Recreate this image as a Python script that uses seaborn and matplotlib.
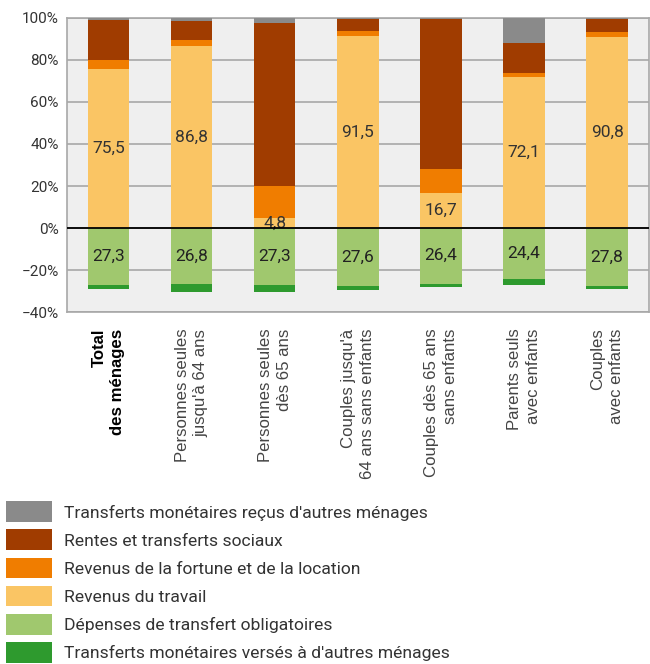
import numpy as np
import pandas as pd
import matplotlib
matplotlib.use("Agg")
import matplotlib.pyplot as plt
import seaborn as sns
from matplotlib.patches import Patch
from matplotlib.ticker import FuncFormatter

# Categories (household types)
categories = ["Total\ndes ménages",
              "Personnes seules\njusqu'à 64 ans",
              "Personnes seules\ndès 65 ans",
              "Couples jusqu'à\n64 ans sans enfants",
              "Couples dès 65 ans\nsans enfants",
              "Parents seuls\navec enfants",
              "Couples\navec enfants"]

# Positive shares (% of gross income)
travail = [75.5, 86.8, 4.8, 91.5, 16.7, 72.1, 90.8]
fortune = [4.3, 2.9, 15.0, 2.4, 11.4, 1.9, 2.4]
rentes = [19.0, 8.6, 78.0, 5.4, 71.3, 14.3, 6.3]
recus = [1.2, 1.7, 2.2, 0.7, 0.6, 11.7, 0.5]

# Negative shares
obligatoires = [27.3, 26.8, 27.3, 27.6, 26.4, 24.4, 27.8]
verses = [1.9, 3.8, 3.3, 1.9, 1.9, 2.9, 1.0]

legend_labels = ["Transferts monétaires reçus d'autres ménages",
                 "Rentes et transferts sociaux",
                 "Revenus de la fortune et de la location",
                 "Revenus du travail",
                 "Dépenses de transfert obligatoires",
                 "Transferts monétaires versés à d'autres ménages"]
colors = ["#8a8a8a", "#a03c00", "#f07d00", "#fac564", "#a0c86e", "#2e9a2e"]

df = pd.DataFrame({"cat": categories, "travail": travail, "fortune": fortune,
                   "rentes": rentes, "recus": recus,
                   "oblig": obligatoires, "verses": verses})
df["c1"] = df["travail"]
df["c2"] = df["c1"] + df["fortune"]
df["c3"] = df["c2"] + df["rentes"]
df["c4"] = df["c3"] + df["recus"]
df["n1"] = -df["oblig"]
df["n2"] = df["n1"] - df["verses"]

sns.set_style("white")
plt.rcParams["font.family"] = ["Roboto", "DejaVu Sans"]

fig = plt.figure(figsize=(6.5, 6.64), dpi=100)
ax = fig.add_axes([0.103, 0.530, 0.895, 0.443])
ax.set_facecolor("#efefef")

# stacked bars drawn as overlapping cumulative totals
layers = [("c4", colors[0]), ("c3", colors[1]), ("c2", colors[2]), ("c1", colors[3]),
          ("n2", colors[5]), ("n1", colors[4])]
for col, c in layers:
    sns.barplot(data=df, x="cat", y=col, color=c, width=0.5, saturation=1,
                linewidth=0, ax=ax, zorder=3)

# value labels
bars = ax.containers
fmt = lambda v: f"{v:.1f}".replace(".", ",")
ax.bar_label(bars[3], labels=[fmt(v) for v in travail], label_type="center",
             fontsize=12.5, color="#333333")
ax.bar_label(bars[5], labels=[fmt(v) for v in obligatoires], label_type="center",
             fontsize=12.5, color="#222222")

ax.set_ylim(-40, 100)
ax.set_yticks(range(-40, 101, 20))
ax.yaxis.set_major_formatter(FuncFormatter(lambda v, p: f"{v:.0f}%".replace("-", "\u2212")))
ax.grid(axis="y", color="#a8a8a8", linewidth=1.2, zorder=1)
ax.set_axisbelow(True)
ax.axhline(0, color="black", linewidth=1.3, zorder=4)

for s in ax.spines.values():
    s.set_color("#a8a8a8")
    s.set_linewidth(1.2)

ax.tick_params(axis="y", length=4, color="#a8a8a8", labelsize=11, labelcolor="#333333", pad=2)
ax.tick_params(axis="x", length=0, pad=12)
ax.set_xlabel("")
ax.set_ylabel("")
ax.set_xticks(range(len(categories)))
ax.set_xticklabels(categories, rotation=90, ha="center", va="top",
                   multialignment="right", fontsize=12.1, color="#444444",
                   family=["Liberation Sans", "DejaVu Sans"], linespacing=1.3)
ax.get_xticklabels()[0].set_fontweight("bold")
ax.get_xticklabels()[0].set_color("black")

handles = [Patch(facecolor=c, edgecolor="none") for c in colors]
fig.legend(handles, legend_labels, loc="upper left", bbox_to_anchor=(0.009, 0.245),
           frameon=False, fontsize=12.6, handlelength=2.62, handleheight=1.45,
           handletextpad=0.7, labelspacing=0.42, borderpad=0, borderaxespad=0,
           labelcolor="#333333")

fig.savefig("out.png", dpi=100)
